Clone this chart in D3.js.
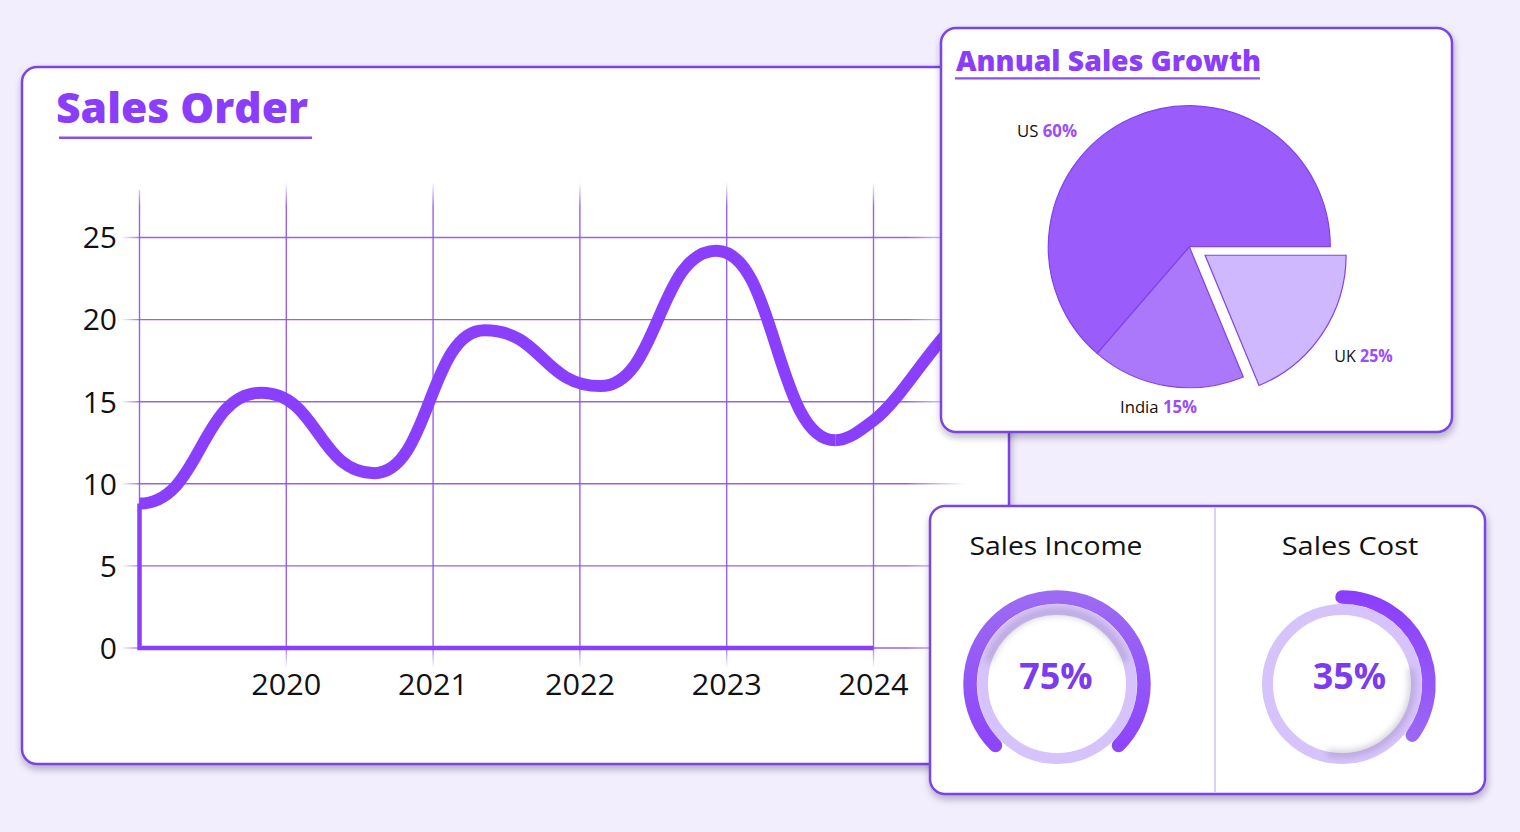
<!DOCTYPE html>
<html><head><meta charset="utf-8">
<script src="https://cdn.jsdelivr.net/npm/d3@7"></script>
<style>
html,body{margin:0;padding:0;background:#f2eefd;}
svg{display:block}
text{font-family:"Open Sans","Noto Sans",sans-serif;}
</style></head><body>
<svg id="c" width="1520" height="832"></svg>
<script>
// ---------- DATA ----------
const gridYears = [2019, 2020, 2021, 2022, 2023, 2024];
const xTickLabels = ["2020", "2021", "2022", "2023", "2024"];
const yTicks = [0, 5, 10, 15, 20, 25];
const orderYears = [2019, 2019.83, 2020.6, 2021.35, 2022.14, 2022.93, 2023.74, 2024.0, 2024.45, 2024.9];
const orderValues = [8.8, 15.55, 10.65, 19.35, 15.95, 24.2, 12.65, 13.85, 18.65, 23.4];
const pieRegions = ["UK", "India", "US"];
const piePercentLabels = [25, 15, 60];
const pieDrawnShares = [18.75, 17.6, 63.65]; // shares as drawn
const gaugeNames = ["Sales Income", "Sales Cost"];
const gaugeValues = [75, 35];

// ---------- SETUP ----------
const svg = d3.select("#c");
const defs = svg.append("defs");
const PURPLE = "#8a3ffc";

const sh = defs.append("filter").attr("id", "shadow")
  .attr("x", "-5%").attr("y", "-5%").attr("width", "112%").attr("height", "115%");
sh.append("feDropShadow").attr("dx", 1).attr("dy", 4).attr("stdDeviation", 3.5)
  .attr("flood-color", "#2b1a4f").attr("flood-opacity", 0.32);

const blur = defs.append("filter").attr("id", "blur")
  .attr("x", "-30%").attr("y", "-30%").attr("width", "160%").attr("height", "160%");
blur.append("feGaussianBlur").attr("stdDeviation", 3);

function card(x, y, w, h) {
  svg.append("rect").attr("x", x).attr("y", y).attr("width", w).attr("height", h)
    .attr("rx", 15).attr("fill", "#fff").attr("stroke", "#7a45e2")
    .attr("stroke-width", 2.5).attr("filter", "url(#shadow)");
}

// ---------- MAIN CARD: Sales Order ----------
card(22, 67, 987, 697);

svg.append("text").attr("x", 56).attr("y", 123.3)
  .attr("font-size", 43).attr("font-weight", 800).attr("fill", "#8b3dfc")
  .attr("textLength", 252).attr("lengthAdjust", "spacingAndGlyphs")
  .text("Sales Order");
svg.append("line").attr("x1", 59).attr("x2", 312).attr("y1", 137.7).attr("y2", 137.7)
  .attr("stroke", "#8a52e8").attr("stroke-width", 2.5);

const x = d3.scaleLinear().domain([2019, 2024]).range([139.5, 873.5]);
const y = d3.scaleLinear().domain([0, 25]).range([648, 237.5]);

// gradients for faded grid lines
const gh = defs.append("linearGradient").attr("id", "gh").attr("gradientUnits", "userSpaceOnUse")
  .attr("x1", 121).attr("x2", 965).attr("y1", 0).attr("y2", 0);
[[0, 0], [0.025, 0.9], [0.93, 0.9], [1, 0]].forEach(s =>
  gh.append("stop").attr("offset", s[0]).attr("stop-color", "#8a50ec").attr("stop-opacity", s[1]));
const gv = defs.append("linearGradient").attr("id", "gv").attr("gradientUnits", "userSpaceOnUse")
  .attr("x1", 0).attr("x2", 0).attr("y1", 182).attr("y2", 668);
[[0, 0], [0.05, 0.9], [0.95, 0.9], [1, 0]].forEach(s =>
  gv.append("stop").attr("offset", s[0]).attr("stop-color", "#8a50ec").attr("stop-opacity", s[1]));

const chart = svg.append("g");
chart.selectAll("line.h").data(yTicks).join("line").attr("class", "h")
  .attr("x1", 121).attr("x2", 965).attr("y1", d => y(d)).attr("y2", d => y(d))
  .attr("stroke", "url(#gh)").attr("stroke-width", 1.4);
chart.selectAll("line.v").data(gridYears).join("line").attr("class", "v")
  .attr("x1", d => x(d)).attr("x2", d => x(d))
  .attr("y1", d => d === 2019 ? 190 : 182).attr("y2", d => d === 2019 ? 648 : 668)
  .attr("stroke", "url(#gv)").attr("stroke-width", 1.4);

// y tick labels
chart.selectAll("text.yt").data(yTicks).join("text").attr("class", "yt")
  .attr("x", 117).attr("y", d => y(d) + 10.8).attr("text-anchor", "end")
  .attr("font-size", 30).attr("fill", "#111").text(d => d);
// x tick labels
chart.selectAll("text.xt").data(xTickLabels).join("text").attr("class", "xt")
  .attr("x", d => x(+d)).attr("y", 695).attr("text-anchor", "middle")
  .attr("font-size", 29).attr("fill", "#111")
  .attr("textLength", 70).attr("lengthAdjust", "spacingAndGlyphs").text(d => d);

// thick axis corner
chart.append("path")
  .attr("d", d3.line()([[x(2024), y(0)], [x(2019), y(0)], [x(2019), y(orderValues[0])]]))
  .attr("fill", "none").attr("stroke", PURPLE).attr("stroke-width", 4.5);

// curve: bump segments through the extrema, monotone through the final rise
const pts = orderYears.map((yr, i) => [yr, orderValues[i]]);
const splitIdx = 6; // last trough
const xs = x(orderYears[splitIdx]);
defs.append("clipPath").attr("id", "cl").append("rect")
  .attr("x", 0).attr("y", 0).attr("width", xs).attr("height", 832);
defs.append("clipPath").attr("id", "cr").append("rect")
  .attr("x", xs).attr("y", 0).attr("width", 1520 - xs).attr("height", 832);
chart.append("path").datum(pts.slice(0, splitIdx + 2))
  .attr("clip-path", "url(#cl)")
  .attr("d", d3.line().x(d => x(d[0])).y(d => y(d[1])).curve(d3.curveBumpX))
  .attr("fill", "none").attr("stroke", PURPLE).attr("stroke-width", 12);
chart.append("path").datum(pts.slice(splitIdx - 1))
  .attr("clip-path", "url(#cr)")
  .attr("d", d3.line().x(d => x(d[0])).y(d => y(d[1])).curve(d3.curveMonotoneX))
  .attr("fill", "none").attr("stroke", PURPLE).attr("stroke-width", 12);

// ---------- PIE CARD ----------
card(941, 28, 511, 404);
svg.append("text").attr("x", 956).attr("y", 70.7)
  .attr("font-size", 29).attr("font-weight", 800).attr("fill", "#8b3dfc")
  .attr("textLength", 305).attr("lengthAdjust", "spacingAndGlyphs")
  .text("Annual Sales Growth");
svg.append("line").attr("x1", 955).attr("x2", 1260).attr("y1", 78.3).attr("y2", 78.3)
  .attr("stroke", "#8a52e8").attr("stroke-width", 2.2);

const pieCx = 1189.3, pieCy = 246.7, pieR = 141;
const pieColors = { UK: "#cfb8fe", India: "#ab78fb", US: "#9a5cfa" };
const pieData = pieRegions.map((r, i) => ({ region: r, share: pieDrawnShares[i], pct: piePercentLabels[i] }));
const pie = d3.pie().sort(null).value(d => d.share)
  .startAngle(Math.PI / 2).endAngle(Math.PI / 2 + 2 * Math.PI);
const arc = d3.arc().innerRadius(0).outerRadius(pieR);
const pg = svg.append("g").attr("transform", `translate(${pieCx},${pieCy})`);
pg.selectAll("path").data(pie(pieData)).join("path")
  .attr("d", arc)
  .attr("transform", d => {
    if (d.data.region !== "UK") return null;
    const m = (d.startAngle + d.endAngle) / 2, off = 19;
    return `translate(${off * Math.sin(m)},${-off * Math.cos(m) - 2})`;
  })
  .attr("fill", d => pieColors[d.data.region])
  .attr("stroke", "#8142ee").attr("stroke-width", 1.2);

const pieLabelPos = { US: [1017, 137, 60], UK: [1334.3, 362.3, 58.5], India: [1120, 412.7, 77] };
pieData.forEach(d => {
  const p = pieLabelPos[d.region];
  const t = svg.append("text").attr("x", p[0]).attr("y", p[1]).attr("font-size", 17)
    .attr("textLength", p[2]).attr("lengthAdjust", "spacingAndGlyphs");
  t.append("tspan").attr("fill", "#111").text(d.region + " ");
  t.append("tspan").attr("fill", "#9b4dfc").attr("font-weight", 700).text(d.pct + "%");
});

// ---------- GAUGE CARD ----------
card(930, 506, 555, 288);
svg.append("line").attr("x1", 1215).attr("x2", 1215).attr("y1", 507.5).attr("y2", 792.5)
  .attr("stroke", "#dccffa").attr("stroke-width", 2);

const gaugeLayout = [
  { cx: 1057, cy: 684, tx: 1056, titleX: 1056, titleW: 173, startDeg: -135, grad: ["#9d6cf3", "#8a3dfd"], shadow: [-70, 70, 72] },
  { cx: 1342, cy: 684, tx: 1349.5, titleX: 1350, titleW: 136.6, startDeg: 0, grad: ["#8a3dfd", "#a072f3"], shadow: [80, 190, 70] }
];
const angle = d3.scaleLinear().domain([0, 100]).range([0, 360]);
function arcPath(cx, cy, r, a0deg, a1deg) {
  const a0 = (a0deg - 90) * Math.PI / 180, a1 = (a1deg - 90) * Math.PI / 180;
  const p = d3.path();
  p.moveTo(cx + r * Math.cos(a0), cy + r * Math.sin(a0));
  p.arc(cx, cy, r, a0, a1, false);
  return p.toString();
}

gaugeValues.forEach((v, i) => {
  const L = gaugeLayout[i];
  svg.append("text").attr("x", L.titleX).attr("y", 555).attr("text-anchor", "middle")
    .attr("font-size", 25).attr("fill", "#111")
    .attr("textLength", L.titleW).attr("lengthAdjust", "spacingAndGlyphs")
    .text(gaugeNames[i]);

  const gid = "gg" + i;
  const lg = defs.append("linearGradient").attr("id", gid).attr("gradientUnits", "userSpaceOnUse")
    .attr("x1", 0).attr("x2", 0).attr("y1", L.cy - 94).attr("y2", L.cy + 94);
  lg.append("stop").attr("offset", 0).attr("stop-color", L.grad[0]);
  lg.append("stop").attr("offset", 1).attr("stop-color", L.grad[1]);

  // light track ring
  svg.append("circle").attr("cx", L.cx).attr("cy", L.cy).attr("r", 74.5)
    .attr("fill", "#fff").attr("stroke", "#d6c3fc").attr("stroke-width", 11);

  // inner shadow
  const cid = "clip" + i;
  defs.append("clipPath").attr("id", cid).append("circle")
    .attr("cx", L.cx).attr("cy", L.cy).attr("r", 79.5);
  svg.append("g").attr("clip-path", `url(#${cid})`).append("path")
    .attr("d", arcPath(L.cx, L.cy, L.shadow[2], L.shadow[0], L.shadow[1]))
    .attr("fill", "none").attr("stroke", "#7a6a92").attr("stroke-opacity", 0.32)
    .attr("stroke-width", 7).attr("stroke-linecap", "round").attr("filter", "url(#blur)");

  // value arc
  svg.append("path")
    .attr("d", arcPath(L.cx, L.cy, 87, L.startDeg, L.startDeg + angle(v)))
    .attr("fill", "none").attr("stroke", `url(#${gid})`).attr("stroke-width", 13.5)
    .attr("stroke-linecap", "round");

  svg.append("text").attr("x", L.tx).attr("y", 689).attr("text-anchor", "middle")
    .attr("font-size", 35).attr("font-weight", 700).attr("fill", "#7b3cf0")
    .attr("textLength", 73.4).attr("lengthAdjust", "spacingAndGlyphs")
    .text(v + "%");
});
</script>
</body></html>
